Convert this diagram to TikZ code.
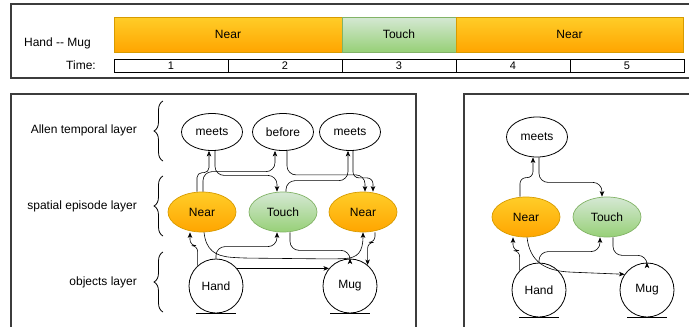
\documentclass[tikz,border=0pt]{standalone}
\usepackage{fontspec}
\setmainfont{Liberation Sans}
\usetikzlibrary{arrows.meta,shapes.geometric,decorations.pathreplacing}

\definecolor{nearTop}{HTML}{FFCD28}
\definecolor{nearBot}{HTML}{FFA500}
\definecolor{nearLine}{HTML}{D79B00}
\definecolor{touchTop}{HTML}{D5E8D4}
\definecolor{touchBot}{HTML}{97D077}
\definecolor{touchLine}{HTML}{82B366}
\definecolor{frameGray}{HTML}{3C3C3C}

\tikzset{
  lbl/.style={font=\fontsize{12}{14}\selectfont},
  rel/.style={ellipse,draw,line width=0.8pt,minimum width=61pt,minimum height=37pt,inner sep=0pt,lbl},
  epi/.style={ellipse,line width=0.7pt,minimum width=68pt,minimum height=40pt,inner sep=0pt,lbl},
  nearfill/.style={draw=nearLine,top color=nearTop,bottom color=nearBot},
  touchfill/.style={draw=touchLine,top color=touchTop,bottom color=touchBot},
  obj/.style={circle,draw,line width=0.8pt,minimum size=54pt,inner sep=0pt,lbl},
  seg/.style={rectangle,line width=0.7pt,minimum height=35pt,inner sep=0pt,lbl},
  cell/.style={rectangle,draw,line width=0.8pt,minimum width=114pt,minimum height=13pt,inner sep=0pt,font=\fontsize{11}{12}\selectfont},
  layer/.style={lbl,anchor=east,inner sep=0pt},
  link/.style={-{Stealth[length=5.5pt,width=4.5pt,inset=1.5pt]},line width=0.6pt,rounded corners=9pt},
  ground/.style={line width=1.2pt},
  layerbrace/.style={decorate,decoration={brace,amplitude=9pt},line width=0.8pt},
  panel/.style={draw=frameGray,line width=1.1pt},
}

\begin{document}
\begin{tikzpicture}[x=1pt,y=-1pt]
  \useasboundingbox (0,0) rectangle (689,327);
  \clip (0,0) rectangle (689,327);

  % timeline
  \draw[panel] (700,4) -- (11,4) -- (11,78) -- (700,78);
  \node[lbl] (pair) at (57.5,43) {Hand -{}- Mug};
  \node[seg,nearfill,minimum width=228pt] (seg1) at (228,34.5) {Near};
  \node[seg,touchfill,minimum width=114pt] (seg2) at (399,34.5) {Touch};
  \node[seg,nearfill,minimum width=227pt] (seg3) at (569.5,34.5) {Near};
  \node[layer] (timelbl) at (96,65.5) {Time:};
  \foreach \i in {1,...,5}
    \node[cell] (t\i) at ({114*\i+57},65.5) {\i};

  % left graph
  \draw[panel] (11,330) -- (11,94) -- (416,94) -- (416,330);
  \node[layer] (allen) at (137,130) {Allen temporal layer};
  \node[layer] (spatial) at (137,206) {spatial episode layer};
  \node[layer] (objects) at (137,282) {objects layer};
  \draw[layerbrace] (163,161) -- (163,101);
  \draw[layerbrace] (163,236) -- (163,176);
  \draw[layerbrace] (163,312) -- (163,252);

  \node[rel] (meets1) at (212,132) {meets};
  \node[rel] (before) at (283,132) {before};
  \node[rel] (meets2) at (350,132) {meets};
  \node[epi,nearfill] (near1) at (202,212) {Near};
  \node[epi,touchfill] (touch) at (283,212) {Touch};
  \node[epi,nearfill] (near2) at (363,212) {Near};
  \node[obj] (hand) at (216,286) {Hand};
  \node[obj] (mug) at (350,286) {Mug};
  \draw[ground] ([xshift=-20pt]hand.south) -- ([xshift=20pt]hand.south);
  \draw[ground] ([xshift=-20pt]mug.south) -- ([xshift=20pt]mug.south);

  \draw[link,rounded corners=5pt] ([xshift=-5pt]near1.north) -- ++(0,-19) -| ([xshift=-3pt]meets1.south);
  \draw[link] ([xshift=1pt]near1.north) -- ++(0,-20) -| ([xshift=-8pt]before.south);
  \draw[link] ([xshift=3pt]meets1.south) -- ++(0,24.5) -| ([xshift=-6pt]touch.north);
  \draw[link] ([xshift=4pt]before.south) -- ++(0,24) -| ([xshift=2pt]near2.north);
  \draw[link] ([xshift=3pt]touch.north) -- ++(0,-11) -| ([xshift=-2pt]meets2.south);
  \draw[link,rounded corners=6pt] ([xshift=3pt]meets2.south) -- ++(0,27) -| ([xshift=10pt]near2.north);
  \draw[link,rounded corners=6pt] (hand.132) -- ++(0,-20) -| ([xshift=-12pt]near1.south);
  \draw[link] (hand.north) -- ++(0,-12) -| ([xshift=-6pt]touch.south);
  \draw[link] ([xshift=2pt]near1.south) .. controls (206,250) and (215,256) .. (240,258)
    -- (335,259) .. controls (358,258) and (363,252) .. (near2.south);
  \draw[link] ([xshift=7pt]touch.south) -- ++(0,18) -| (mug.north);
  \draw[link,rounded corners=6pt] ([xshift=12pt]near2.south) -- ++(0,10) -| (mug.50);
  \draw[link] (hand.40) -- (mug.140);

  % right graph
  \draw[panel] (464,330) -- (464,94) -- (700,94);
  \node[rel,minimum height=40pt] (rmeets) at (537,137) {meets};
  \node[epi,nearfill] (rnear) at (526,217) {Near};
  \node[epi,touchfill] (rtouch) at (607,217) {Touch};
  \node[obj] (rhand) at (539,290) {Hand};
  \node[obj] (rmug) at (647,290) {Mug};
  \draw[ground] ([xshift=-20pt]rhand.south) -- ([xshift=20pt]rhand.south);
  \draw[ground] ([xshift=-20pt]rmug.south) -- ([xshift=20pt]rmug.south);

  \draw[link,rounded corners=6pt] ([xshift=-6pt]rnear.north) -- ++(0,-19) -| ([xshift=-4pt]rmeets.south);
  \draw[link] ([xshift=2pt]rmeets.south) -- ++(0,25) -| ([xshift=-5pt]rtouch.north);
  \draw[link,rounded corners=6pt] (rhand.135) -- ++(0,-20) -| ([xshift=-13pt]rnear.south);
  \draw[link] (rhand.north) -- ++(0,-11) -| ([xshift=-7pt]rtouch.south);
  \draw[link] ([xshift=1pt]rnear.south) .. controls (530,262) and (545,271) .. (580,272.5) -- (rmug.145);
  \draw[link] ([xshift=6pt]rtouch.south) -- ++(0,18) -| (rmug.north);
\end{tikzpicture}
\end{document}
